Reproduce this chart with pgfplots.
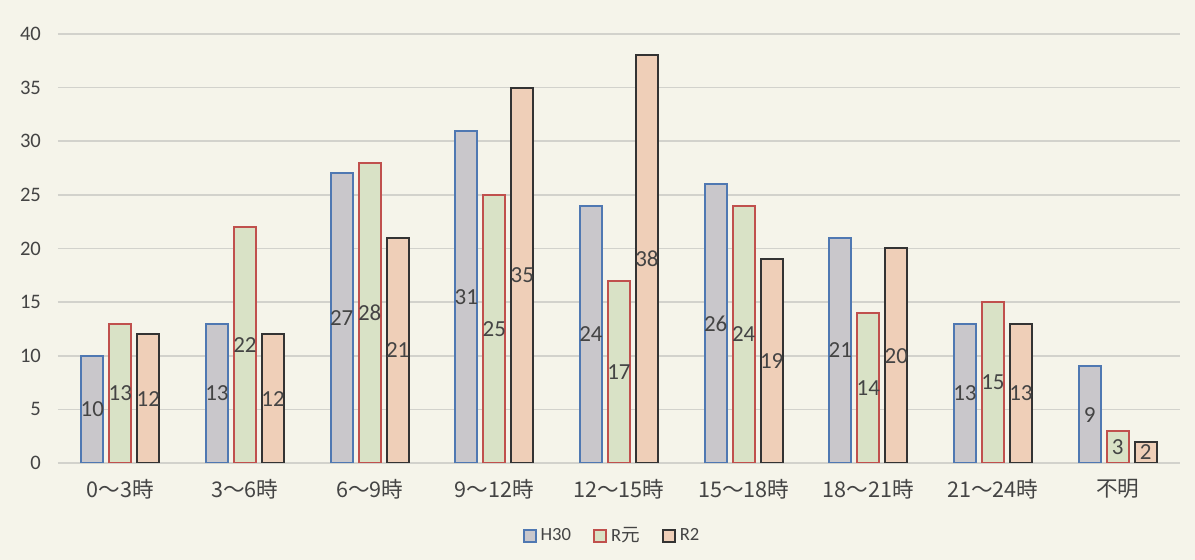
\documentclass[border=0pt]{standalone}
\usepackage{fontspec}
\setmainfont{Carlito}
\newfontfamily\jp{Noto Sans CJK JP}
\usepackage{pgfplots}
\pgfplotsset{compat=1.18}

\definecolor{bg}{HTML}{F5F4EA}
\definecolor{gridc}{HTML}{D2D2CC}
\definecolor{hfill}{HTML}{C9C7CB}
\definecolor{hline}{HTML}{4F78B2}
\definecolor{rfill}{HTML}{D9E2C6}
\definecolor{rline}{HTML}{C0504D}
\definecolor{pfill}{HTML}{EFCFB8}
\definecolor{pline}{HTML}{333333}
\definecolor{txt}{HTML}{444444}

\begin{document}
\begin{tikzpicture}
\fill[bg] (-29pt,-48.5pt) rectangle (568.5pt,231.5pt);
\path[use as bounding box] (-29pt,-48.5pt) rectangle (568.5pt,231.5pt);
\begin{axis}[
    at={(0,0)}, anchor=south west,
    scale only axis,
    width=561pt, height=214.5pt,
    ybar=3pt, bar width=11pt,
    xmin=-0.5, xmax=8.5,
    ymin=0, ymax=40,
    ytick={0,5,...,40},
    xtick={0,...,8},
    xticklabels={{\jp 0～3時},{\jp 3～6時},{\jp 6～9時},{\jp 9～12時},{\jp 12～15時},{\jp 15～18時},{\jp 18～21時},{\jp 21～24時},{\jp 不明}},
    axis line style={draw=none},
    major tick length=0pt,
    ymajorgrids,
    grid style={gridc, line width=0.8pt},
    xticklabel style={yshift=-4.5pt, font=\fontsize{10.8}{12}\selectfont, text=txt},
    yticklabel style={xshift=-5pt, font=\fontsize{10.3}{12}\selectfont, text=txt},
    /pgf/number format/assume math mode=true,
    visualization depends on={y \as \rawy},
    nodes near coords,
    every node near coord/.append style={anchor=center, font=\fontsize{11.5}{12}\selectfont, text=txt,
        shift={(axis direction cs:0,-\rawy/2)}},
    legend columns=-1,
    legend style={at={(0.5,0)}, xshift=-3pt, yshift=-36.5pt, anchor=center, draw=none, fill=none,
        font=\fontsize{9.3}{11}\selectfont, text=txt,
        /tikz/every even column/.append style={column sep=9pt}},
    legend image code/.code={\draw[#1, line width=1pt] (0pt,-3pt) rectangle (6pt,3pt);},
]
\addplot[fill=hfill, draw=hline, line width=1pt] coordinates {
    (0,10) (1,13) (2,27) (3,31) (4,24) (5,26) (6,21) (7,13) (8,9) };
\addplot[fill=rfill, draw=rline, line width=1pt] coordinates {
    (0,13) (1,22) (2,28) (3,25) (4,17) (5,24) (6,14) (7,15) (8,3) };
\addplot[fill=pfill, draw=pline, line width=1pt] coordinates {
    (0,12) (1,12) (2,21) (3,35) (4,38) (5,19) (6,20) (7,13) (8,2) };
\legend{H30,{R{\jp 元}},R2}
\end{axis}
\end{tikzpicture}
\end{document}
